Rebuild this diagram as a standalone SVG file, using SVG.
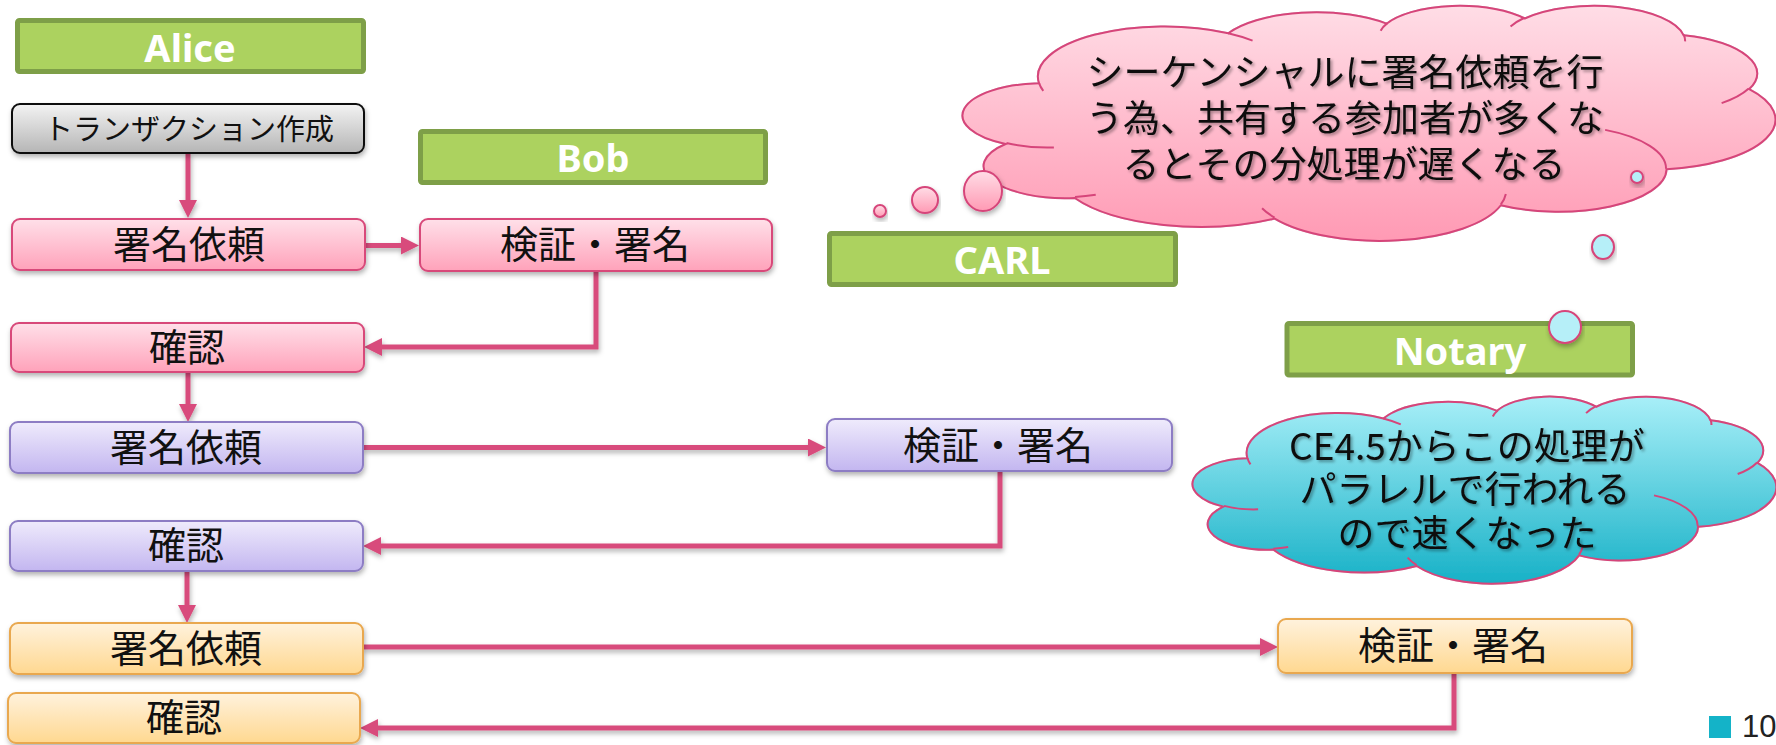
<svg xmlns="http://www.w3.org/2000/svg" xmlns:xlink="http://www.w3.org/1999/xlink" width="1776" height="745" viewBox="0 0 1776 745">
<style>
.hdr rect{fill:#acd25f;stroke:#7e9f48;stroke-width:5}
.hdr text{font-family:"Noto Sans","DejaVu Sans",sans-serif;font-weight:bold;font-size:38px;fill:#fff;text-anchor:middle}
.box{stroke-width:2}
.jp{font-family:"Noto Sans CJK JP",sans-serif;fill:#111;text-anchor:middle;dominant-baseline:central}
.n38{font-size:38px}
.pink{fill:url(#gPink);stroke:#d84a7a}
.purple{fill:url(#gPurple);stroke:#8d7dc4}
.orange{fill:url(#gOrange);stroke:#e9a84f}
.gray{fill:url(#gGray);stroke:#111}
.conn path{fill:none;stroke:#d84b7b;stroke-width:5;marker-end:url(#arr)}
.cl{stroke:#d6457a;stroke-width:2}
.ctext{font-family:"Noto Sans CJK JP",sans-serif;font-size:37px;fill:#111;text-anchor:middle;dominant-baseline:central}
</style>
<defs>
<linearGradient id="gPink" x1="0" y1="0" x2="0" y2="1"><stop offset="0" stop-color="#ffe0e9"/><stop offset="1" stop-color="#ffa2ba"/></linearGradient>
<linearGradient id="gPurple" x1="0" y1="0" x2="0" y2="1"><stop offset="0" stop-color="#efebfc"/><stop offset="1" stop-color="#c3b6f0"/></linearGradient>
<linearGradient id="gOrange" x1="0" y1="0" x2="0" y2="1"><stop offset="0" stop-color="#fff2dd"/><stop offset="1" stop-color="#ffd890"/></linearGradient>
<linearGradient id="gGray" x1="0" y1="0" x2="0" y2="1"><stop offset="0" stop-color="#f3f3f3"/><stop offset="1" stop-color="#b5b5b5"/></linearGradient>
<linearGradient id="gCloudPink" x1="0" y1="0" x2="0" y2="1"><stop offset="0" stop-color="#ffdde6"/><stop offset="1" stop-color="#ff9ab4"/></linearGradient>
<linearGradient id="gCloudCyan" x1="0" y1="0" x2="0" y2="1"><stop offset="0" stop-color="#a8eff8"/><stop offset="1" stop-color="#17b1c7"/></linearGradient>
<filter id="sh" x="-10%" y="-20%" width="120%" height="160%"><feDropShadow dx="1" dy="3" stdDeviation="2.5" flood-color="#000" flood-opacity="0.3"/></filter>
<filter id="tsh" x="-5%" y="-20%" width="110%" height="150%"><feDropShadow dx="2" dy="2" stdDeviation="1.5" flood-color="#000" flood-opacity="0.35"/></filter>
<marker id="arr" markerUnits="userSpaceOnUse" viewBox="0 0 18 18" markerWidth="18" markerHeight="18" refX="8" refY="9" orient="auto"><path d="M0,0 L18,9 L0,18 z" fill="#d84b7b"/></marker>
<path id="cloud" vector-effect="non-scaling-stroke" d="M3900,14370 A6753,9190 0 0 1 14005,5202 A5333,7267 0 0 1 22459,3436 A4365,5945 0 0 1 29836,2483 A4857,6595 0 0 1 38321,5577 A5333,7273 0 0 1 41821,15461 A6775,9220 0 0 1 37408,30205 A5785,7867 0 0 1 28559,36815 A6752,9215 0 0 1 16484,39268 A7720,10543 0 0 1 5808,35475 A4360,5918 0 0 1 2117,25553 A4345,5945 0 0 1 3900,14370 Z"/>
<path id="cloudIn" vector-effect="non-scaling-stroke" fill="none" d="M4693,26177 A4345,5945 0 0 1 2160,25380 M6928,34899 A4360,5918 0 0 1 5820,35281 M16478,39090 A6752,9215 0 0 1 15810,37349 M28827,34751 A6752,9215 0 0 1 28561,36660 M34129,22954 A5785,7867 0 0 1 37380,30090 M41798,15354 A5333,7273 0 0 1 40350,18030 M38324,5426 A4857,6595 0 0 1 38400,6689 M29078,3952 A4857,6595 0 0 1 29820,2339 M22141,4720 A4365,5945 0 0 1 22500,3331 M14000,5192 A6753,9190 0 0 1 15302,6544 M4127,15789 A6753,9190 0 0 1 3900,14370"/>
</defs>

<g id="alice-header" class="hdr"><rect x="17.5" y="20.5" width="346" height="51" rx="2"/><text x="190" y="62">Alice</text></g>
<g id="bob-header" class="hdr"><rect x="420.5" y="131.5" width="345" height="51" rx="2"/><text x="593" y="172">Bob</text></g>
<g id="carl-header" class="hdr"><rect x="829.5" y="233.5" width="346" height="51" rx="2"/><text x="1002" y="274">CARL</text></g>
<g id="notary-header" class="hdr"><rect x="1287" y="323.5" width="345.5" height="51.5" rx="2"/><text x="1460" y="365">Notary</text></g>

<g id="connectors" class="conn" filter="url(#sh)">
<path d="M188,153 V208"/>
<path d="M365,245.5 H409"/>
<path d="M596,271 V347 H374"/>
<path d="M188,372 V412"/>
<path d="M363,447.5 H816"/>
<path d="M1000,471 V546 H373"/>
<path d="M187,571 V613"/>
<path d="M363,647 H1268"/>
<path d="M1454,673 V728 H370"/>
</g>

<g id="n-tx"><rect class="box gray" x="12" y="104" width="352" height="49" rx="8" filter="url(#sh)"/><text class="jp" x="189" y="127" font-size="29">トランザクション作成</text></g>
<g id="n-alice-req1"><rect class="box pink" x="12" y="219" width="353" height="51" rx="8" filter="url(#sh)"/><text class="jp n38" x="189" y="241">署名依頼</text></g>
<g id="n-bob-sign"><rect class="box pink" x="420" y="219" width="352" height="52" rx="8" filter="url(#sh)"/><text class="jp n38" x="595" y="241">検証・署名</text></g>
<g id="n-alice-conf1"><rect class="box pink" x="11" y="323" width="353" height="49" rx="8" filter="url(#sh)"/><text class="jp n38" x="187" y="344">確認</text></g>
<g id="n-alice-req2"><rect class="box purple" x="10" y="422" width="353" height="51" rx="8" filter="url(#sh)"/><text class="jp n38" x="186" y="444">署名依頼</text></g>
<g id="n-carl-sign"><rect class="box purple" x="827" y="419" width="345" height="52" rx="8" filter="url(#sh)"/><text class="jp n38" x="998" y="442">検証・署名</text></g>
<g id="n-alice-conf2"><rect class="box purple" x="10" y="521" width="353" height="50" rx="8" filter="url(#sh)"/><text class="jp n38" x="186" y="542">確認</text></g>
<g id="n-alice-req3"><rect class="box orange" x="10" y="623" width="353" height="51" rx="8" filter="url(#sh)"/><text class="jp n38" x="186" y="645">署名依頼</text></g>
<g id="n-notary-sign"><rect class="box orange" x="1278" y="619" width="354" height="54" rx="8" filter="url(#sh)"/><text class="jp n38" x="1453" y="642">検証・署名</text></g>
<g id="n-alice-conf3"><rect class="box orange" x="8" y="693" width="352" height="50" rx="8" filter="url(#sh)"/><text class="jp n38" x="184" y="714">確認</text></g>

<g id="cloud-sequential">
<g transform="translate(966,5) scale(0.018727,0.0054398)">
<use xlink:href="#cloud" class="cl" fill="url(#gCloudPink)" filter="url(#sh)"/>
<use xlink:href="#cloudIn" class="cl"/>
</g>
<ellipse cx="983" cy="191" rx="19" ry="20" class="cl" fill="url(#gCloudPink)" filter="url(#sh)"/>
<circle cx="925" cy="200" r="13" class="cl" fill="url(#gCloudPink)" filter="url(#sh)"/>
<circle cx="880" cy="211" r="6" class="cl" fill="url(#gCloudPink)" filter="url(#sh)"/>
<text class="ctext" filter="url(#tsh)"><tspan x="1345" y="70">シーケンシャルに署名依頼を行</tspan><tspan x="1345" y="116">う為、共有する参加者が多くな</tspan><tspan x="1344" y="162">るとその分処理が遅くなる</tspan></text>
</g>

<g id="cloud-parallel">
<g transform="translate(1195,396) scale(0.013449,0.0043287)">
<use xlink:href="#cloud" class="cl" fill="url(#gCloudCyan)" filter="url(#sh)"/>
<use xlink:href="#cloudIn" class="cl"/>
</g>
<circle cx="1565" cy="327" r="16" class="cl" fill="#b6eff8" filter="url(#sh)"/>
<ellipse cx="1603" cy="247" rx="11" ry="12" class="cl" fill="#b6eff8" filter="url(#sh)"/>
<circle cx="1637" cy="177" r="6" class="cl" fill="#b6eff8" filter="url(#sh)"/>
<text class="ctext" filter="url(#tsh)"><tspan x="1467" y="444">CE4.5からこの処理が</tspan><tspan x="1465" y="487">パラレルで行われる</tspan><tspan x="1467" y="531">ので速くなった</tspan></text>
</g>

<g id="slide-number"><rect x="1709" y="716" width="22" height="22" fill="#14b3c8"/><text x="1742" y="737" font-family="Liberation Sans, sans-serif" font-size="31" fill="#222">10</text></g>
</svg>
